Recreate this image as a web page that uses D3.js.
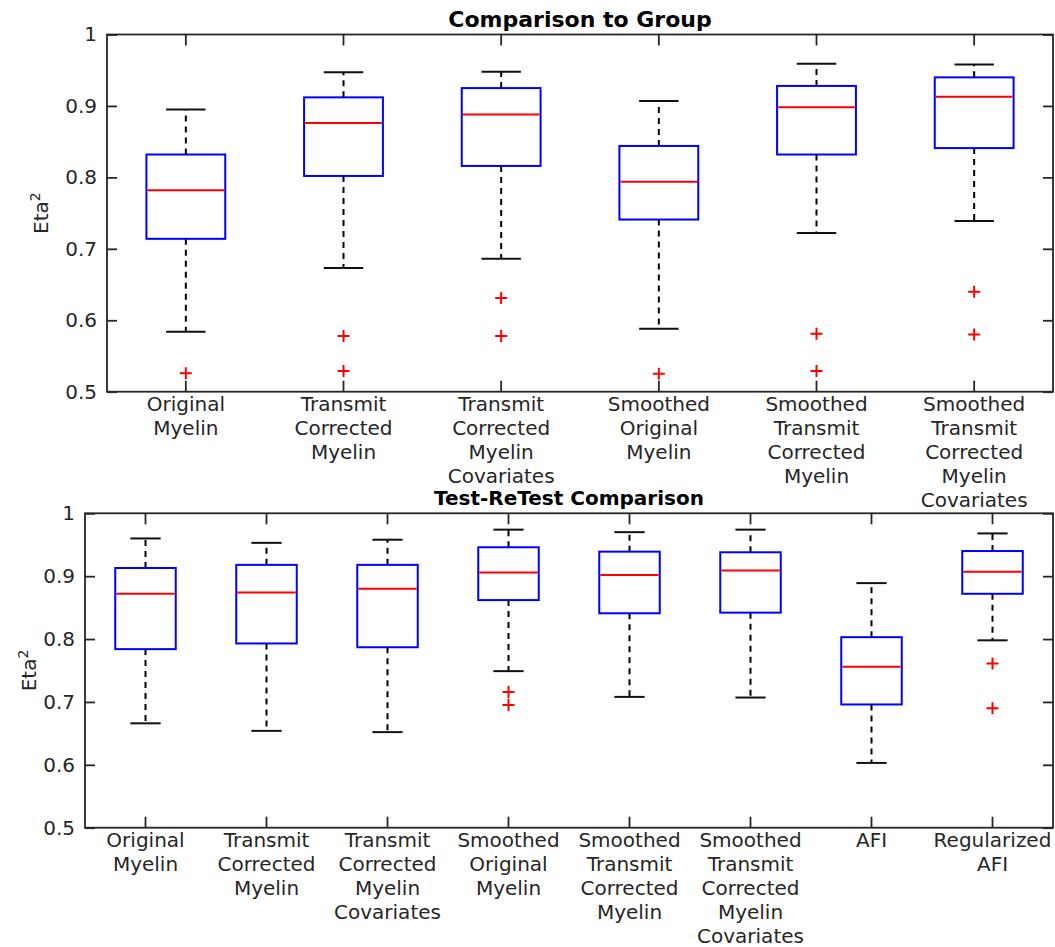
<!DOCTYPE html>
<html>
<head>
<meta charset="utf-8">
<script src="https://cdn.jsdelivr.net/npm/d3@7/dist/d3.min.js"></script>
<style>
  html, body { margin: 0; padding: 0; background: #fff; }
  svg { display: block; font-family: "DejaVu Sans", sans-serif; }
</style>
</head>
<body>
<svg id="chart" width="1055" height="947"></svg>
<script>
// ---- Panel 1: Comparison to Group ----
const groupCategories = [
  ["Original", "Myelin"],
  ["Transmit", "Corrected", "Myelin"],
  ["Transmit", "Corrected", "Myelin", "Covariates"],
  ["Smoothed", "Original", "Myelin"],
  ["Smoothed", "Transmit", "Corrected", "Myelin"],
  ["Smoothed", "Transmit", "Corrected", "Myelin", "Covariates"]
];
const groupMin      = [0.584, 0.673, 0.686, 0.588, 0.722, 0.739];
const groupQ1       = [0.714, 0.802, 0.816, 0.741, 0.832, 0.841];
const groupMedian   = [0.782, 0.876, 0.888, 0.794, 0.898, 0.913];
const groupQ3       = [0.832, 0.912, 0.925, 0.844, 0.928, 0.940];
const groupMax      = [0.895, 0.947, 0.948, 0.907, 0.959, 0.958];
const groupOutliers = [[0.526], [0.578, 0.529], [0.631, 0.578], [0.525], [0.581, 0.529], [0.640, 0.580]];

// ---- Panel 2: Test-ReTest Comparison ----
const retestCategories = [
  ["Original", "Myelin"],
  ["Transmit", "Corrected", "Myelin"],
  ["Transmit", "Corrected", "Myelin", "Covariates"],
  ["Smoothed", "Original", "Myelin"],
  ["Smoothed", "Transmit", "Corrected", "Myelin"],
  ["Smoothed", "Transmit", "Corrected", "Myelin", "Covariates"],
  ["AFI"],
  ["Regularized", "AFI"]
];
const retestMin      = [0.666, 0.654, 0.652, 0.749, 0.708, 0.707, 0.603, 0.798];
const retestQ1       = [0.784, 0.793, 0.787, 0.862, 0.841, 0.842, 0.696, 0.872];
const retestMedian   = [0.872, 0.874, 0.880, 0.906, 0.902, 0.909, 0.756, 0.907];
const retestQ3       = [0.913, 0.918, 0.918, 0.946, 0.939, 0.938, 0.803, 0.940];
const retestMax      = [0.960, 0.953, 0.958, 0.974, 0.970, 0.974, 0.889, 0.968];
const retestOutliers = [[], [], [], [0.716, 0.695], [], [], [], [0.761, 0.690]];

const yTicks = [0.5, 0.6, 0.7, 0.8, 0.9, 1];
const yDomain = [0.5, 1];

const svg = d3.select("#chart");
const axisColor = "#262626";

function drawPanel(cfg) {
  const { left, right, top, bottom, title, categories, mins, q1, med, q3, maxs, outliers } = cfg;
  const g = svg.append("g");
  const idx = categories.map((_, i) => i);
  const x = d3.scaleBand().domain(idx).range([left, right]).padding(0);
  const y = d3.scaleLinear().domain(yDomain).range([bottom, top]);
  const bw = x.bandwidth();
  const cx = i => x(i) + bw / 2;
  const boxW = bw * 0.5;
  const capW = bw * 0.25;

  // frame
  g.append("rect")
    .attr("x", left).attr("y", top)
    .attr("width", right - left).attr("height", bottom - top)
    .attr("fill", "none").attr("stroke", axisColor).attr("stroke-width", 1.8);

  // y axes (ticks pointing inward)
  const yl = g.append("g").attr("transform", `translate(${left},0)`)
    .call(d3.axisLeft(y).tickValues(yTicks).tickSize(-10).tickPadding(10)
      .tickFormat(d => d === 1 ? "1" : d3.format(".1f")(d)));
  const yr = g.append("g").attr("transform", `translate(${right},0)`)
    .call(d3.axisRight(y).tickValues(yTicks).tickSize(-10).tickFormat(""));
  // x axes (ticks pointing inward)
  const xb = g.append("g").attr("transform", `translate(0,${bottom})`)
    .call(d3.axisBottom(x).tickSize(-11).tickFormat(""));
  const xt = g.append("g").attr("transform", `translate(0,${top})`)
    .call(d3.axisTop(x).tickSize(-11).tickFormat(""));
  [yl, yr, xb, xt].forEach(a => {
    a.select(".domain").remove();
    a.selectAll(".tick line").attr("stroke", axisColor).attr("stroke-width", 1.8);
    a.selectAll(".tick text").attr("fill", axisColor).attr("font-size", 20)
      .attr("font-family", "DejaVu Sans, sans-serif");
  });

  // multi-line category labels
  const lbl = g.append("g");
  categories.forEach((lines, i) => {
    const t = lbl.append("text")
      .attr("x", cx(i)).attr("y", bottom + 19)
      .attr("text-anchor", "middle")
      .attr("font-size", 20).attr("fill", axisColor);
    lines.forEach((ln, k) => {
      t.append("tspan").attr("x", cx(i)).attr("dy", k === 0 ? 0 : 24).text(ln);
    });
  });

  // title
  g.append("text")
    .attr("x", (left + right) / 2).attr("y", top - 8)
    .attr("text-anchor", "middle")
    .attr("font-size", cfg.titleSize).attr("font-weight", "bold").attr("fill", "#000")
    .text(title);

  // y label
  const yl2 = g.append("text")
    .attr("transform", `translate(${cfg.ylabelX},${(top + bottom) / 2}) rotate(-90)`)
    .attr("text-anchor", "middle").attr("font-size", 20).attr("fill", axisColor);
  yl2.append("tspan").text("Eta");
  yl2.append("tspan").attr("baseline-shift", "super").attr("font-size", 14).text("2");

  // whiskers, boxes, medians, outliers
  const boxes = g.append("g");
  idx.forEach(i => {
    const c = cx(i);
    boxes.append("line").attr("x1", c).attr("x2", c)
      .attr("y1", y(q3[i])).attr("y2", y(maxs[i]))
      .attr("stroke", "#000").attr("stroke-width", 2).attr("stroke-dasharray", "6,5");
    boxes.append("line").attr("x1", c).attr("x2", c)
      .attr("y1", y(q1[i])).attr("y2", y(mins[i]))
      .attr("stroke", "#000").attr("stroke-width", 2).attr("stroke-dasharray", "6,5");
    [mins[i], maxs[i]].forEach(v => {
      boxes.append("line").attr("x1", c - capW / 2).attr("x2", c + capW / 2)
        .attr("y1", y(v)).attr("y2", y(v))
        .attr("stroke", "#111").attr("stroke-width", 2);
    });
    boxes.append("rect")
      .attr("x", c - boxW / 2).attr("y", y(q3[i]))
      .attr("width", boxW).attr("height", y(q1[i]) - y(q3[i]))
      .attr("fill", "none").attr("stroke", "#0000ff").attr("stroke-width", 2);
    boxes.append("line").attr("x1", c - boxW / 2 + 1).attr("x2", c + boxW / 2 - 1)
      .attr("y1", y(med[i])).attr("y2", y(med[i]))
      .attr("stroke", "#ff0000").attr("stroke-width", 2);
    outliers[i].forEach(v => {
      const oy = y(v);
      boxes.append("path")
        .attr("d", `M${c - 6},${oy}H${c + 6}M${c},${oy - 6}V${oy + 6}`)
        .attr("stroke", "#ff0000").attr("stroke-width", 2).attr("fill", "none");
    });
  });
}

drawPanel({
  left: 107, right: 1053, top: 34.5, bottom: 391.7,
  title: "Comparison to Group", titleSize: 22, ylabelX: 48,
  categories: groupCategories, mins: groupMin, q1: groupQ1, med: groupMedian,
  q3: groupQ3, maxs: groupMax, outliers: groupOutliers
});

drawPanel({
  left: 85, right: 1053, top: 513.3, bottom: 827.7,
  title: "Test-ReTest Comparison", titleSize: 20, ylabelX: 36,
  categories: retestCategories, mins: retestMin, q1: retestQ1, med: retestMedian,
  q3: retestQ3, maxs: retestMax, outliers: retestOutliers
});
</script>
</body>
</html>
